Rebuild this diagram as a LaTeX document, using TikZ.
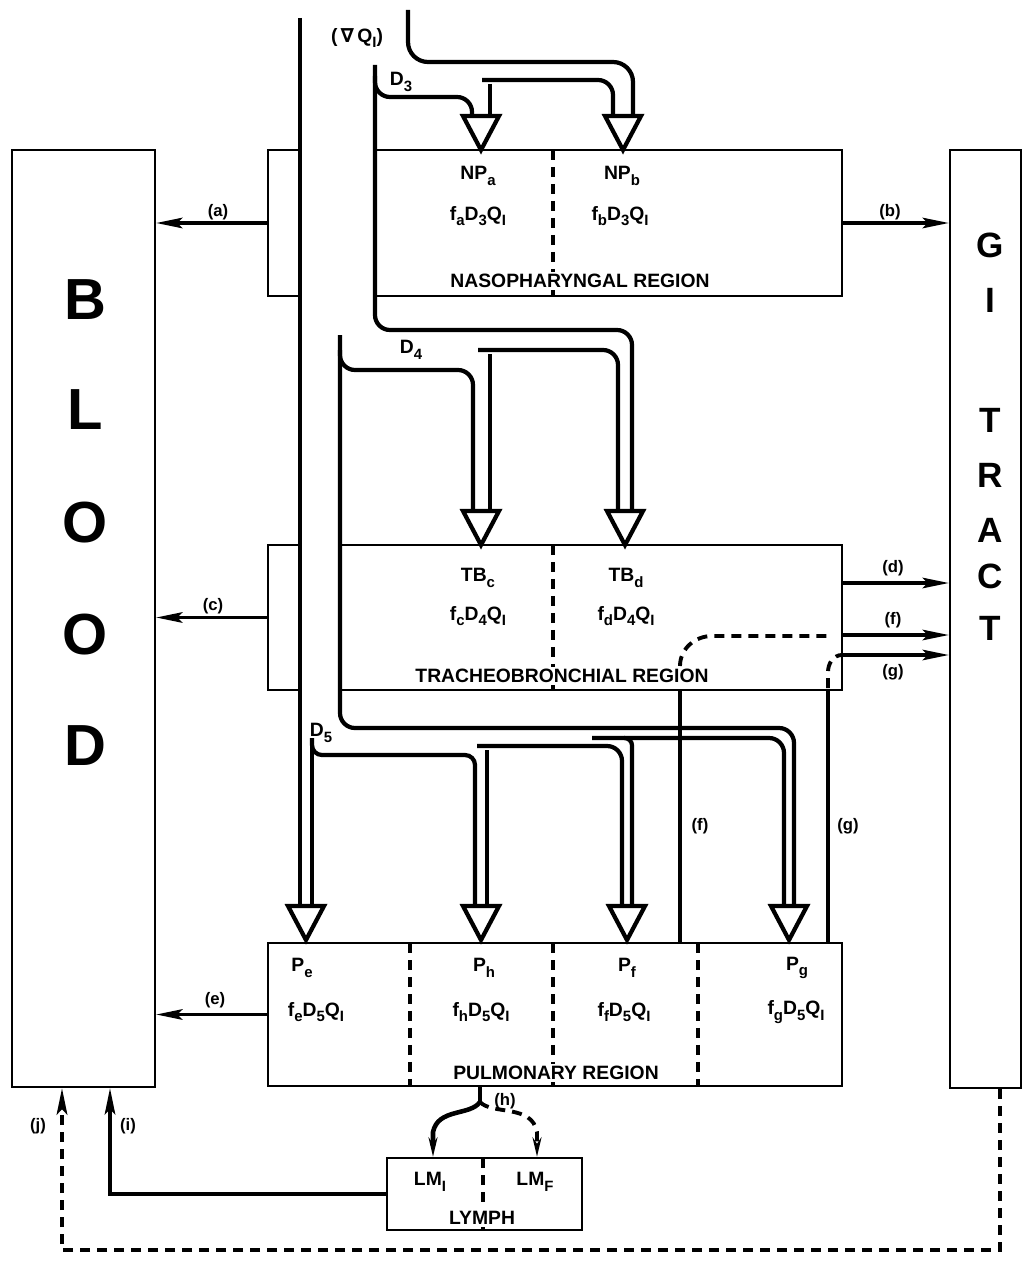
\documentclass[tikz,border=0pt]{standalone}
\usepackage{fontspec}
\setmainfont{Liberation Sans}
\newfontfamily\symfont{DejaVu Sans}
\usetikzlibrary{arrows.meta,fit}
\newcommand{\subtxt}[1]{\raisebox{-0.55ex}{\fontsize{8.5}{9}\selectfont #1}}
\newcommand{\intakehead}[2]{\draw[intake] (#1-18,#2) -- (#1+18,#2) -- (#1,#2+34) -- cycle;}

\begin{document}
\begin{tikzpicture}[x=0.02cm, y=-0.02cm,
    box/.style={draw, line width=1.3pt, inner sep=0pt},
    pipe/.style={line width=2.4pt, rounded corners=0.3cm},
    intake/.style={line width=2.4pt, fill=white, line join=miter},
    flow/.style={line width=2pt, -{Stealth[length=15pt,width=6pt,inset=3pt]}},
    divider/.style={line width=2.2pt, dash pattern=on 0.2cm off 0.14cm},
    txt/.style={font=\fontsize{11}{13}\selectfont\bfseries},
    rname/.style={txt, fill=white, inner sep=1.5pt},
    tag/.style={font=\fontsize{9.5}{11}\selectfont\bfseries},
    big/.style={font=\fontsize{33}{33}\selectfont\bfseries},
    tract/.style={font=\fontsize{20}{20}\selectfont\bfseries}]
    \useasboundingbox (0,0) rectangle (1023,1274);

    \node[box, fit={(12,150) (155,1087)}] (blood) {};
    \node[box, fit={(950,150) (1021,1088)}] (gi) {};
    \node[box, fit={(268,150) (300,296)}] (npside) {};
    \node[box, fit={(375,150) (842,296)}] (np) {};
    \node[box, fit={(268,545) (300,690)}] (tbside) {};
    \node[box, fit={(340,545) (842,690)}] (tb) {};
    \node[box, fit={(268,943) (842,1086)}] (pul) {};
    \node[box, fit={(387,1158) (582,1230)}] (lymph) {};

    \foreach \ch/\y in {B/300, L/410, O/523, O/635, D/746}
        \node[big] (blood\y) at (85,\y) {\ch};
    \foreach \ch/\y in {G/245, I/300, T/420, R/475, A/530, C/576, T/628}
        \node[tract] (gi\y) at (990,\y) {\ch};

    \draw[divider] (553,150) -- (553,296);
    \draw[divider] (553,545) -- (553,690);
    \foreach \x in {410, 553, 698}
        \draw[divider] (\x,943) -- (\x,1086);
    \draw[divider] (483,1158) -- (483,1230);

    \draw[pipe] (300,18) -- (300,906);
    \draw[pipe, rounded corners=0.4cm] (408,10) -- (408,62) -- (633,62) -- (633,116);
    \draw[pipe] (375,65) -- (375,330) -- (632,330) -- (632,511);
    \draw[pipe] (375,76) -- (375,97) -- (472,97) -- (472,116);
    \draw[pipe] (482,80) -- (613,80) -- (613,116);
    \draw[pipe] (490,84) -- (490,116);
    \draw[pipe] (340,335) -- (340,728) -- (794,728) -- (794,906);
    \draw[pipe] (340,350) -- (340,370) -- (473,370) -- (473,511);
    \draw[pipe] (478,350) -- (618,350) -- (618,511);
    \draw[pipe] (490,354) -- (490,511);
    \draw[pipe] (312,742) -- (312,906);
    \draw[pipe, rounded corners=0.2cm] (312,738) -- (312,755) -- (475,755) -- (475,906);
    \draw[pipe] (477,746) -- (622,746) -- (622,906);
    \draw[pipe] (487,750) -- (487,906);
    \draw[pipe] (592,738) -- (784,738) -- (784,906);
    \draw[pipe, rounded corners=0.15cm] (624,738) -- (632,738) -- (632,906);

    \intakehead{481}{116}
    \intakehead{623}{116}
    \intakehead{481}{511}
    \intakehead{625}{511}
    \intakehead{306}{906}
    \intakehead{481}{906}
    \intakehead{627}{906}
    \intakehead{789}{906}

    \node[txt] (grad) at (357,38) {(\,{\symfont\bfseries ∇}\,Q\subtxt{I})};
    \node[txt] (dthree) at (401,82) {D\subtxt{3}};
    \node[txt] (dfour) at (411,350) {D\subtxt{4}};
    \node[txt] (dfive) at (321,733) {D\subtxt{5}};

    \node[txt] (npa) at (478,176) {NP\subtxt{a}};
    \node[txt] (fa) at (478,216) {f\subtxt{a}D\subtxt{3}Q\subtxt{I}};
    \node[txt] (npb) at (622,176) {NP\subtxt{b}};
    \node[txt] (fb) at (620,216) {f\subtxt{b}D\subtxt{3}Q\subtxt{I}};
    \node[rname] (npname) at (580,281) {NASOPHARYNGAL REGION};

    \node[txt] (tbc) at (478,578) {TB\subtxt{c}};
    \node[txt] (fc) at (478,616) {f\subtxt{c}D\subtxt{4}Q\subtxt{I}};
    \node[txt] (tbd) at (626,578) {TB\subtxt{d}};
    \node[txt] (fd) at (626,616) {f\subtxt{d}D\subtxt{4}Q\subtxt{I}};
    \node[rname] (tbname) at (562,676) {TRACHEOBRONCHIAL REGION};

    \node[txt] (pe) at (302,968) {P\subtxt{e}};
    \node[txt] (fe) at (316,1012) {f\subtxt{e}D\subtxt{5}Q\subtxt{I}};
    \node[txt] (ph) at (484,968) {P\subtxt{h}};
    \node[txt] (fh) at (481,1012) {f\subtxt{h}D\subtxt{5}Q\subtxt{I}};
    \node[txt] (pf) at (627,968) {P\subtxt{f}};
    \node[txt] (ff) at (624,1012) {f\subtxt{f}D\subtxt{5}Q\subtxt{I}};
    \node[txt] (pg) at (797,968) {P\subtxt{g}};
    \node[txt] (fg) at (796,1012) {f\subtxt{g}D\subtxt{5}Q\subtxt{I}};
    \node[rname] (pulname) at (556,1073) {PULMONARY REGION};

    \node[txt] (lmi) at (430,1182) {LM\subtxt{I}};
    \node[txt] (lmf) at (535,1182) {LM\subtxt{F}};
    \node[rname] (lyname) at (482,1218) {LYMPH};

    \draw[flow] (npside.west) -- (blood.east |- npside.west);
    \draw[flow] (np.east) -- (gi.west |- np.east);
    \draw[flow] (tbside.west) -- (blood.east |- tbside.west);
    \draw[flow] (tb.east |- 0,583) -- (gi.west |- 0,583);
    \draw[flow] (tb.east |- 0,635) -- (gi.west |- 0,635);
    \draw[flow] (tb.east |- 0,655) -- (gi.west |- 0,655);
    \draw[flow] (pul.west) -- (blood.east |- pul.west);
    \node[tag] (la) at (218,212) {(a)};
    \node[tag] (lb) at (890,212) {(b)};
    \node[tag] (lc) at (213,606) {(c)};
    \node[tag] (ld) at (893,568) {(d)};
    \node[tag] (lf) at (893,620) {(f)};
    \node[tag] (lg) at (893,672) {(g)};
    \node[tag] (le) at (215,1000) {(e)};

    \draw[line width=1.8pt] (tb.south -| 680,0) -- (pul.north -| 680,0);
    \draw[line width=1.8pt] (tb.south -| 828,0) -- (pul.north -| 828,0);
    \draw[divider] (680,666) to[out=90,in=180] (712,636) -- (828,636);
    \draw[divider] (828,688) -- (828,672) to[out=90,in=180] (842,655);
    \node[tag] (lf2) at (700,826) {(f)};
    \node[tag] (lg2) at (848,826) {(g)};

    \draw[line width=2.6pt] (pul.south -| 480,0) -- (480,1102);
    \draw[line width=2.6pt, -{Stealth[length=11pt,width=5pt]}] (480,1102) .. controls (470,1116) and (438,1108) .. (433,1132) -- (lymph.north -| 433,0);
    \draw[divider, -{Stealth[length=11pt,width=5pt]}] (480,1102) .. controls (492,1115) and (532,1104) .. (537,1132) -- (lymph.north -| 537,0);
    \node[tag] (lh) at (505,1101) {(h)};

    \draw[flow] (lymph.west) -| (blood.south -| 110,0);
    \draw[divider, -{Stealth[length=15pt,width=6pt,inset=3pt]}] (gi.south -| 1000,0) -- (1000,1250) -| (blood.south -| 62,0);
    \node[tag] (li) at (128,1126) {(i)};
    \node[tag] (lj) at (38,1126) {(j)};
\end{tikzpicture}
\end{document}
